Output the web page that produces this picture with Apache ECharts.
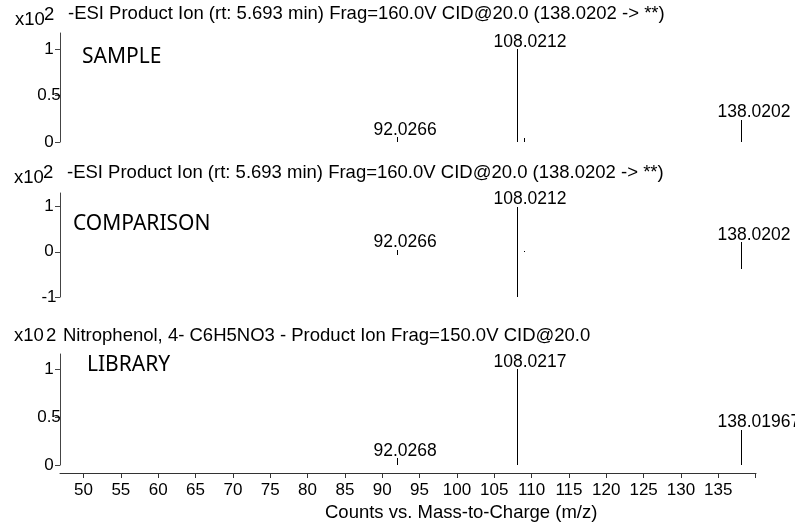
<!DOCTYPE html>
<html>
<head>
<meta charset="utf-8">
<script src="https://cdn.jsdelivr.net/npm/echarts@6/dist/echarts.min.js"></script>
<style>
html,body{margin:0;padding:0;background:#fff;}
#chart{width:795px;height:528px;}
</style>
</head>
<body>
<div id="chart"></div>
<script>
// ---- data ----
const xTicks = [50,55,60,65,70,75,80,85,90,95,100,105,110,115,120,125,130,135,140];
const xTickLabels = [50,55,60,65,70,75,80,85,90,95,100,105,110,115,120,125,130,135];

const sampleMz = [92.0266, 108.0212, 109.02, 138.0202];
const sampleInt = [0.055, 1.0, 0.04, 0.24];
const sampleLbl = ['92.0266', '108.0212', '', '138.0202'];

const compMz = [92.0266, 108.0212, 109.02, 138.0202];
const compUpInt = [0.05, 1.0, 0.01, 0.21];
const compLbl = ['92.0266', '108.0212', '', '138.0202'];
const compDownMz = [92.0268, 108.0217, 138.01967];
const compDownInt = [-0.07, -1.0, -0.37];

const libMz = [92.0268, 108.0217, 138.01967];
const libInt = [0.07, 1.0, 0.37];
const libLbl = ['92.0268', '108.0217', '138.01967'];

const sampleYTicks = [0, 0.5, 1];
const compYTicks = [-1, 0, 1];
const libYTicks = [0, 0.5, 1];

const titles = [
  '-ESI Product Ion (rt: 5.693 min) Frag=160.0V CID@20.0 (138.0202 -> **)',
  '-ESI Product Ion (rt: 5.693 min) Frag=160.0V CID@20.0 (138.0202 -> **)',
  'Nitrophenol, 4- C6H5NO3 - Product Ion Frag=150.0V CID@20.0'
];
const panelNames = ['SAMPLE', 'COMPARISON', 'LIBRARY'];
const xName = 'Counts vs. Mass-to-Charge (m/z)';

// ---- styling ----
const FONT = "'Liberation Sans', Arial, sans-serif";
const FS = 17;      // tick labels
const FS_PK = 17.5; // peak labels
const FS_T = 18.5;  // titles
const X_MIN = 46.85, X_MAX = 140.05;

function peaks(idx, mz, ints, lbls) {
  return {
    type: 'custom',
    xAxisIndex: idx, yAxisIndex: idx,
    data: mz.map((m, i) => [m, ints[i]]),
    clip: false,
    renderItem: function (params, api) {
      const x = api.value(0), y = api.value(1);
      const p0 = api.coord([x, 0]);
      const p1 = api.coord([x, y]);
      const px = Math.round(p0[0]) + 0.5;
      const children = [{
        type: 'line',
        shape: {x1: px, y1: Math.round(p0[1]), x2: px, y2: Math.round(p1[1])},
        style: {stroke: '#000', lineWidth: 1}
      }];
      const lbl = lbls ? lbls[params.dataIndex] : '';
      if (lbl) {
        children.push({
          type: 'text',
          style: {
            text: lbl, x: px - 24, y: p1[1] + 2,
            align: 'left', verticalAlign: 'bottom',
            font: FS_PK + 'px ' + FONT, fill: '#000'
          }
        });
      }
      return {type: 'group', children: children};
    }
  };
}

function yAxis(idx, min, max, ticks) {
  return {
    type: 'value', gridIndex: idx, min: min, max: max,
    splitLine: {show: false},
    axisLine: {show: true, lineStyle: {color: '#444', width: 1}},
    axisTick: {show: true, inside: false, length: 5, customValues: ticks, lineStyle: {color: '#444'}},
    axisLabel: {show: true, customValues: ticks, align: 'center', margin: 11,
      color: '#000', fontSize: FS, fontFamily: FONT}
  };
}

function xAxis(idx, visible) {
  return {
    type: 'value', gridIndex: idx, min: X_MIN, max: X_MAX,
    show: visible, offset: visible ? 8 : 0,
    splitLine: {show: false},
    axisLine: {show: visible, onZero: false, lineStyle: {color: '#333', width: 1}},
    axisTick: {show: visible, length: 5, customValues: xTicks, lineStyle: {color: '#333'}},
    axisLabel: {show: visible, customValues: xTickLabels, margin: 9,
      color: '#000', fontSize: FS, fontFamily: FONT}
  };
}

function txt(t, x, y, size, family) {
  return {type: 'text', style: {text: t, x: x, y: y, verticalAlign: 'middle',
    font: size + 'px ' + family, fill: '#000'}};
}

const chart = echarts.init(document.getElementById('chart'), null, {renderer: 'canvas'});
chart.setOption({
  animation: false,
  backgroundColor: '#fff',
  grid: [
    {left: 60, right: 39, top: 33, height: 109, outerBoundsMode: 'none'},
    {left: 60, right: 39, top: 193, height: 104, outerBoundsMode: 'none'},
    {left: 60, right: 39, top: 354, height: 111, outerBoundsMode: 'none'}
  ],
  xAxis: [xAxis(0, false), xAxis(1, false), xAxis(2, true)],
  yAxis: [yAxis(0, 0, 1.17, sampleYTicks), yAxis(1, -1, 1.3, compYTicks), yAxis(2, 0, 1.16, libYTicks)],
  series: [
    peaks(0, sampleMz, sampleInt, sampleLbl),
    peaks(1, compMz, compUpInt, compLbl),
    peaks(1, compDownMz, compDownInt, null),
    peaks(2, libMz, libInt, libLbl)
  ],
  graphic: [
    txt('x10', 15, 20, FS_T, FONT), txt('2', 44, 15, FS_T, FONT), txt(titles[0], 68, 14, FS_T, FONT),
    txt('x10', 14, 178, FS_T, FONT), txt('2', 43, 173, FS_T, FONT), txt(titles[1], 67, 173, FS_T, FONT),
    txt('x10', 14, 336, FS_T, FONT), txt('2', 46, 336, FS_T, FONT), txt(titles[2], 63, 336, FS_T, FONT),
    txt(panelNames[0], 82, 57, 21, "'Noto Sans', sans-serif"),
    txt(panelNames[1], 73, 224, 21, "'Noto Sans', sans-serif"),
    txt(panelNames[2], 87, 365, 21, "'Noto Sans', sans-serif"),
    txt(xName, 325, 513, FS_T, FONT)
  ]
});
</script>
</body>
</html>
